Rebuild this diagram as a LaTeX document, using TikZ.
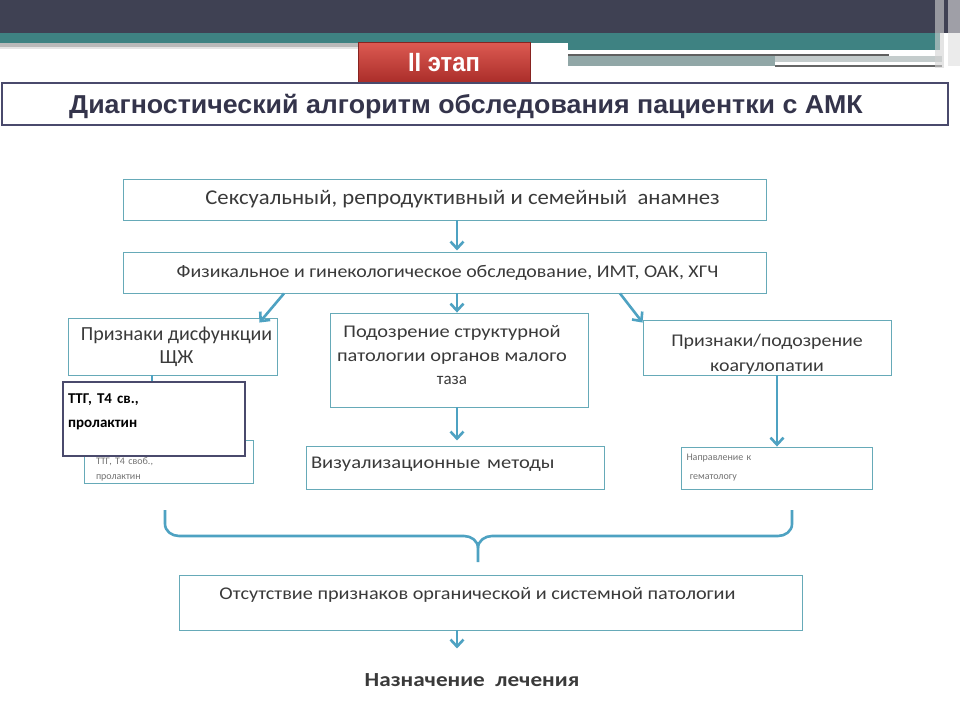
\documentclass[tikz,border=0pt]{standalone}
\usepackage{fontspec}
\setmainfont{Carlito}
\newfontfamily\titlefont{Liberation Sans}
\usepackage{tikz}
\usetikzlibrary{shapes.geometric, arrows.meta, positioning}
\definecolor{slidedark}{HTML}{3F4153}
\definecolor{slideteal}{HTML}{3E8282}
\definecolor{boxline}{HTML}{66AAB8}
\definecolor{arrowblue}{HTML}{4EA2C2}
\definecolor{boxtext}{HTML}{3A3A3A}
\definecolor{navyline}{HTML}{4A4A6C}
\definecolor{stagetop}{HTML}{DC5A52}
\definecolor{stagebottom}{HTML}{A92C28}
\tikzstyle{stagebox} = [rectangle, draw=black, text centered, line width=0.9pt, text=boxtext, fill=white]
\tikzstyle{steptext} = [stagebox, draw=boxline, font=\fontsize{20}{23}\selectfont]
\tikzstyle{smalltext} = [stagebox, draw=boxline, font=\fontsize{17}{24}\selectfont]
\tikzstyle{tinytext} = [stagebox, draw=boxline, font=\fontsize{10}{15}\selectfont, text=gray!80!boxtext, align=left]
\tikzstyle{arrow} = [line width=2.6pt, draw=arrowblue, -{Straight Barb[length=7pt, width=13pt]}]

\begin{document}
\begin{tikzpicture}[x=1pt, y=-1pt, every node/.style={inner sep=0pt}]
    \useasboundingbox (0,0) rectangle (960,720);
    % slide header
    \fill[white] (0,0) rectangle (960,720);
    \fill[slidedark] (0,0) rectangle (960,33);
    \fill[slideteal] (0,33) rectangle (940,43);
    \fill[slideteal] (568,43) rectangle (940,50);
    \fill[gray!55] (0,43) rectangle (358,47);
    \fill[gray!20] (0,47) rectangle (358,49);
    \fill[white] (568,51) rectangle (889,54);
    \fill[gray!75!black] (568,54) rectangle (889,56);
    \fill[slideteal!45!gray!70] (568,56) rectangle (775,66);
    \fill[slideteal!30!gray!40] (775,56) rectangle (942,62);
    \fill[gray!80!black] (775,65) rectangle (942,67);
    \fill[gray!35, opacity=0.6] (935,0) rectangle (944,68);
    \fill[gray!25, opacity=0.6] (948,0) rectangle (960,66);
    \node (stage) [rectangle, minimum width=172pt, minimum height=41pt, top color=stagetop, bottom color=stagebottom, draw=stagebottom!80!black, text=white, font=\titlefont\bfseries\fontsize{22}{24}\selectfont] at (444,63) {\scalebox{1.08}[1.2]{II этап}};
    \node (title) [rectangle, draw=navyline, line width=1.6pt, minimum width=946pt, minimum height=42pt, text=navyline!70!black, font=\titlefont\bfseries\fontsize{24}{26}\selectfont] at (475,104) {\hspace*{-18pt}\rule{0pt}{25pt}\scalebox{1.115}[1.08]{Диагностический алгоритм обследования пациентки с АМК}};

    % algorithm
    \node (history) [steptext, minimum width=643pt, minimum height=41pt] at (444.5,199.5) {\hspace*{36pt}\scalebox{1.135}[1.05]{Сексуальный, репродуктивный и семейный\ \ анамнез}};
    \node (exam) [smalltext, minimum width=643pt, minimum height=41pt] at (444.5,272.5) {\hspace*{6pt}\scalebox{1.17}[1.05]{Физикальное и гинекологическое обследование, ИМТ, ОАК, ХГЧ}};
    \node (thyroid) [steptext, minimum width=209pt, minimum height=57pt, align=center] at (172.5,346.5) {\hspace*{8pt}Признаки дисфункции\\\hspace*{8pt}ЩЖ};
    \node (pelvis) [smalltext, font=\fontsize{17}{23.5}\selectfont, minimum width=258pt, minimum height=94pt, align=center] at (459,360) {\hspace*{-14pt}\scalebox{1.2}[1.05]{Подозрение структурной}\\\hspace*{-14pt}\scalebox{1.2}[1.05]{патологии органов малого}\\\hspace*{-14pt}таза\rule[-10pt]{0pt}{10pt}};
    \node (coag) [smalltext, font=\fontsize{17}{25}\selectfont, minimum width=248pt, minimum height=55pt, align=center] at (767,347.5) {\rule{0pt}{25pt}\scalebox{1.17}[1.05]{Признаки/подозрение}\\\scalebox{1.17}[1.05]{коагулопатии}};
    \node (labs) [tinytext, minimum width=169pt, minimum height=43pt, text width=145pt] at (168.5,461.5) {\rule{0pt}{23.5pt}ТТГ, Т4 своб.,\\пролактин};
    \node (labsbig) [rectangle, draw=navyline, line width=1.2pt, fill=white, minimum width=182pt, minimum height=74pt, text width=172pt, align=left, text=black, font=\bfseries\fontsize{15}{24}\selectfont] at (154,419) {ТТГ, Т4 св.,\\пролактин\rule[-16pt]{0pt}{16pt}};
    \node (imaging) [smalltext, minimum width=298pt, minimum height=43pt, text width=288pt, align=left] at (455,467.5) {\scalebox{1.21}[1.05]{Визуализационные методы}\rule[-10pt]{0pt}{10pt}};
    \node (hemat) [tinytext, font=\fontsize{10}{19}\selectfont, minimum width=191pt, minimum height=42pt, text width=180pt] at (776.5,468) {Направление к\\ \ гематологу};
    \node (noorg) [smalltext, minimum width=623pt, minimum height=55pt] at (490.5,602.5) {\hspace*{-26pt}\scalebox{1.19}[1.05]{Отсутствие признаков органической и системной патологии}\rule[-18pt]{0pt}{18pt}};
    \node (therapy) [font=\bfseries\fontsize{19}{22}\selectfont, text=boxtext] at (472,680) {\scalebox{1.22}[1.05]{Назначение\ \ лечения}};

    \coordinate (braceleft) at (165,510);
    \coordinate (braceright) at (792,510);
    \coordinate (bracetip) at (478,562);

    \draw [arrow] (history.south -| 457,0) -- ++(0,30);
    \draw [arrow] (exam.south -| 284,0) -- ([xshift=-18pt, yshift=-5pt]thyroid.north east);
    \draw [arrow] (exam.south -| 457,0) -- (pelvis.north -| 457,0);
    \draw [arrow] (exam.south -| 620,0) -- ([xshift=0pt, yshift=-3pt]coag.north west);
    \draw [line width=2.4pt, draw=arrowblue] (thyroid.south -| 152,0) -- (labsbig.north -| 152,0);
    \draw [arrow] (pelvis.south -| 457,0) -- ++(0,33);
    \draw [arrow] (coag.south -| 777,0) -- (hemat.north -| 777,0);
    \draw [line width=2.6pt, draw=arrowblue, line join=round]
        (braceleft) -- ++(0,14) to[out=270, in=180] ++(14,12) -- ++(285,0)
        to[out=0, in=90] ++(14,12) -- (bracetip);
    \draw [line width=2.6pt, draw=arrowblue, line join=round]
        (braceright) -- ++(0,14) to[out=270, in=0] ++(-14,12) -- ++(-286,0)
        to[out=180, in=90] ++(-14,12);
    \draw [arrow] (noorg.south -| 457,0) -- ++(0,18);
\end{tikzpicture}
\end{document}
